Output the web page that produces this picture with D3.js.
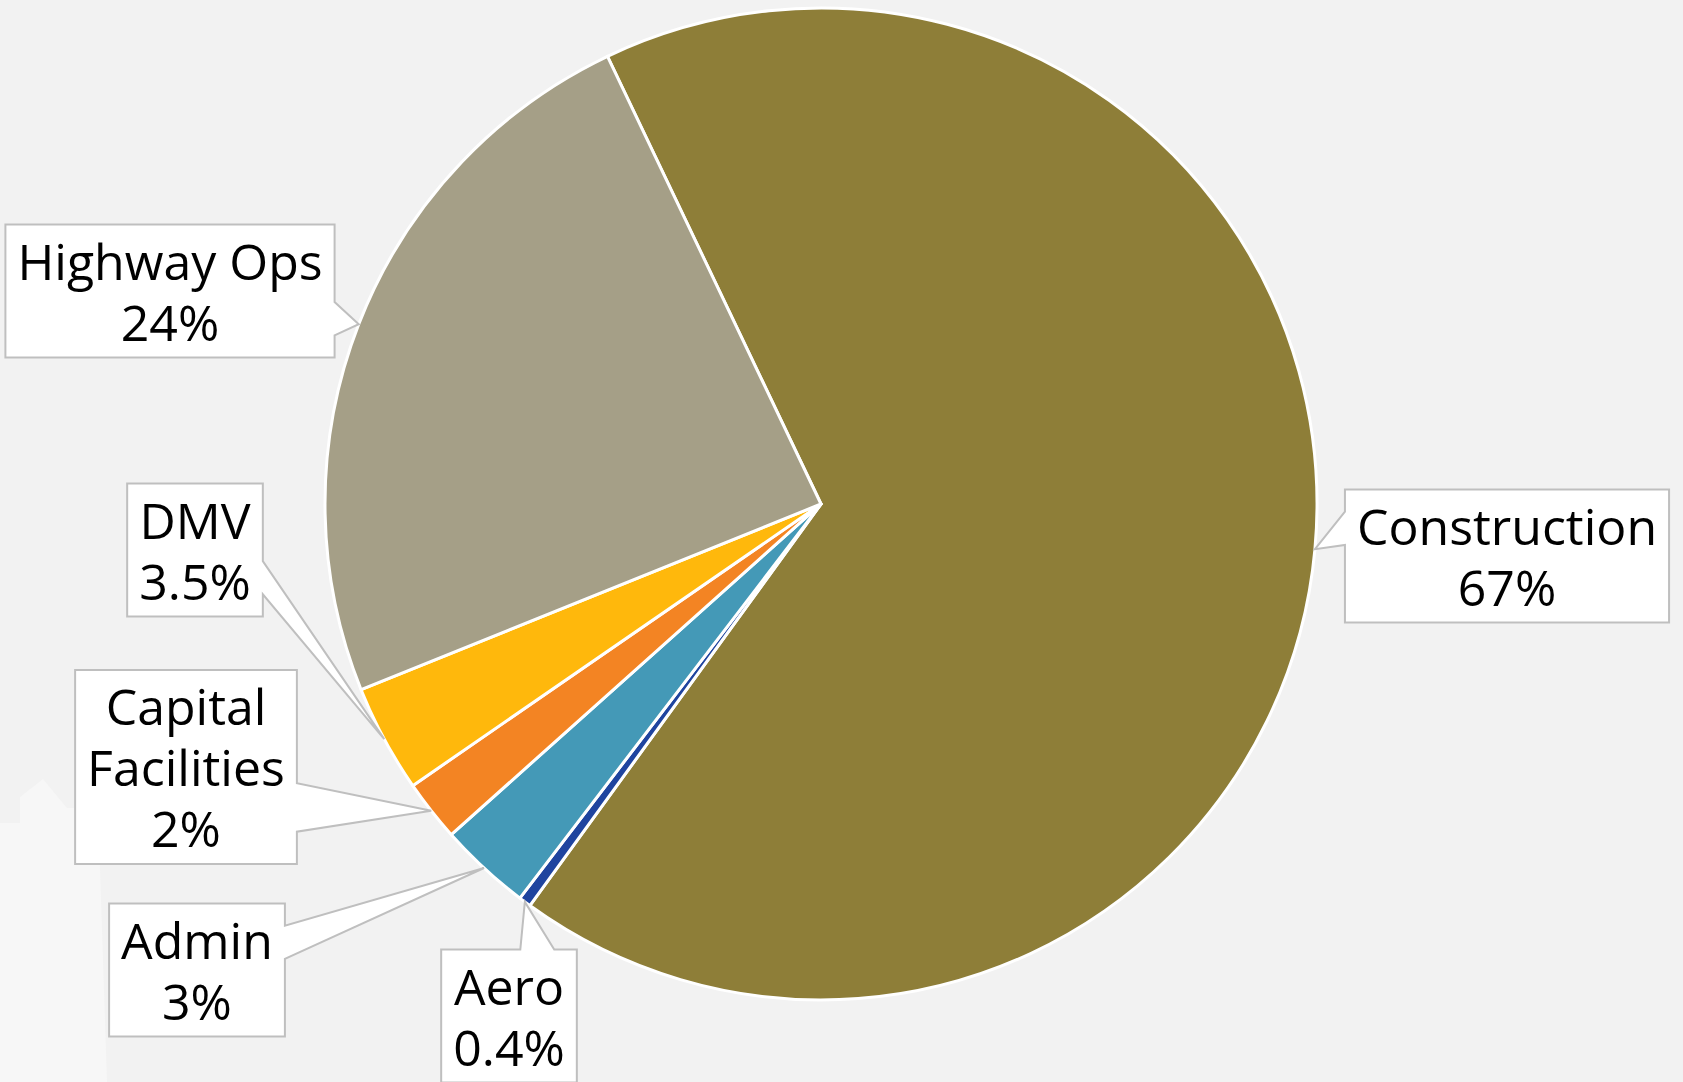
<!DOCTYPE html>
<html>
<head>
<meta charset="utf-8">
<script src="https://cdn.jsdelivr.net/npm/d3@7"></script>
<style>
  body { margin: 0; background: #f2f2f2; }
  svg { display: block; }
</style>
</head>
<body>
<svg id="chart"></svg>
<script>
(() => {
  // data, clockwise from the Construction slice
  const categories = ['Construction', 'Aero', 'Admin', 'Capital Facilities', 'DMV', 'Highway Ops']
  const shares = [67, 0.4, 3, 2, 3.5, 24]
  const labelLines = [['Construction'], ['Aero'], ['Admin'], ['Capital', 'Facilities'], ['DMV'], ['Highway Ops']]
  const shareText = ['67%', '0.4%', '3%', '2%', '3.5%', '24%']

  const colors = ['#8e7e38', '#1f449f', '#4499b7', '#f38423', '#ffb80c', '#a59f87']
  // centre of each label box (layout)
  const labelCenter = [[1507, 556], [509, 1016], [197, 970], [186, 767], [195, 550], [170, 291]]

  const width = 1683
  const height = 1082
  const cx = 821, cy = 504, r = 496
  const lineH = 61

  const svg = d3.select('#chart')
    .attr('width', width)
    .attr('height', height)
    .style('font-family', '"Open Sans", sans-serif')

  svg.append('rect')
    .attr('width', width)
    .attr('height', height)
    .attr('fill', '#f2f2f2')

  // faint silhouette in the bottom-left corner of the slide
  svg.append('path')
    .attr('d', 'M0,823 L20,823 L20,797 L43,779 L67,808 L98,808 L107,1082 L0,1082 Z')
    .attr('fill', '#f7f7f7')

  const pie = d3.pie()
    .sort(null)
    .value(d => d)
    .startAngle(-25.5 * Math.PI / 180)
    .endAngle(-25.5 * Math.PI / 180 + 2 * Math.PI)

  const arcs = pie(shares)
  const arc = d3.arc().innerRadius(0).outerRadius(r)
  const edge = d3.arc().innerRadius(r).outerRadius(r)

  const g = svg.append('g').attr('transform', `translate(${cx},${cy})`)

  g.selectAll('path')
    .data(arcs)
    .join('path')
    .attr('d', arc)
    .attr('fill', (d, i) => colors[i])
    .attr('stroke', '#fff')
    .attr('stroke-width', 3)
    .attr('stroke-linejoin', 'round')

  // labels with callout boxes
  const labels = svg.append('g')

  arcs.forEach((d, i) => {
    const lines = labelLines[i].concat(shareText[i])
    const [lx, ly] = labelCenter[i]
    const lab = labels.append('g')

    const text = lab.append('text')
      .attr('text-anchor', 'middle')
      .attr('font-size', 50)
      .attr('fill', '#000')

    const h = lines.length * lineH + 11
    const y0 = ly - h / 2
    text.selectAll('tspan')
      .data(lines)
      .join('tspan')
      .attr('x', lx)
      .attr('y', (t, j) => y0 + 55 + j * lineH)
      .text(t => t)

    let tw = 0
    text.selectAll('tspan').each(function () { tw = Math.max(tw, this.getComputedTextLength()) })
    const w = tw + 24
    const x0 = lx - w / 2, x1 = lx + w / 2, y1 = y0 + h

    const [ex, ey] = edge.centroid(d)
    const tx = cx + ex, ty = cy + ey

    // wedge leaves a left/right side unless the tip is straight above or below the box
    let side
    if (tx < x0) side = 'left'
    else if (tx > x1) side = 'right'
    else side = ty > ly ? 'bottom' : 'top'

    const frac = (v, c) => v < c ? [1 / 6, 5 / 12] : [7 / 12, 5 / 6]
    const tip = `L${tx},${ty}`
    let p = `M${x0},${y0}`
    if (side === 'top') {
      const [a, b] = frac(tx, lx)
      p += `L${x0 + a * w},${y0}${tip}L${x0 + b * w},${y0}`
    }
    p += `L${x1},${y0}`
    if (side === 'right') {
      const [a, b] = frac(ty, ly)
      p += `L${x1},${y0 + a * h}${tip}L${x1},${y0 + b * h}`
    }
    p += `L${x1},${y1}`
    if (side === 'bottom') {
      const [a, b] = frac(tx, lx)
      p += `L${x0 + b * w},${y1}${tip}L${x0 + a * w},${y1}`
    }
    p += `L${x0},${y1}`
    if (side === 'left') {
      const [a, b] = frac(ty, ly)
      p += `L${x0},${y0 + b * h}${tip}L${x0},${y0 + a * h}`
    }
    p += 'Z'

    lab.insert('path', 'text')
      .attr('d', p)
      .attr('fill', '#fff')
      .attr('stroke', '#bfbfbf')
      .attr('stroke-width', 2)
      .attr('stroke-linejoin', 'miter')
  })
})()
</script>
</body>
</html>
